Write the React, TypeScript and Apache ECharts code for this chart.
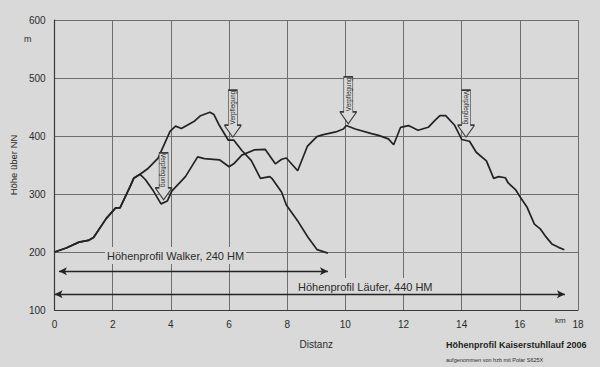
import React, { useEffect, useRef } from "react";
import * as echarts from "echarts";

// Shared start of both profiles (km / m)
const commonKm = [0, 0.4, 0.84, 1.16, 1.34, 1.78, 2.1, 2.25, 2.6, 2.72, 2.94];
const commonM = [200, 207, 217, 220, 225, 258, 276, 276, 313, 327, 334];

// Walker profile after the split
const walkerKm = [3.19, 3.56, 3.97, 4.16, 4.36, 4.82, 5.02, 5.34, 5.48, 5.67, 5.97, 6.16, 6.44, 6.76, 7.08, 7.4, 7.49, 7.81, 7.97, 8.38, 8.72, 9.03, 9.4];
const walkerM = [343, 362, 408, 417, 413, 426, 435, 441, 437, 418, 393, 393, 375, 358, 327, 330, 326, 303, 281, 252, 225, 204, 198];

// Läufer profile after the split
const laeuferKm = [3.12, 3.4, 3.66, 3.88, 4.03, 4.5, 4.92, 5.15, 5.67, 6.0, 6.16, 6.44, 6.86, 7.24, 7.59, 7.81, 7.97, 8.13, 8.36, 8.69, 9.02, 9.21, 9.67, 9.93, 10.03, 10.34, 10.9, 11.14, 11.48, 11.66, 11.9, 12.17, 12.5, 12.85, 13.08, 13.25, 13.45, 13.75, 14.0, 14.27, 14.5, 14.85, 15.1, 15.27, 15.5, 15.6, 15.86, 15.97, 16.25, 16.5, 16.7, 16.9, 17.1, 17.33, 17.53];
const laeuferM = [325, 305, 283, 288, 305, 330, 364, 361, 359, 347, 352, 367, 376, 377, 352, 360, 362, 353, 340, 382, 399, 402, 407, 412, 418, 412, 404, 401, 395, 385, 415, 418, 410, 415, 427, 435, 435, 419, 394, 391, 372, 357, 327, 330, 328, 319, 307, 298, 277, 248, 240, 226, 214, 208, 204];

// Refreshment points (Verpflegung): [km, m, text rotation]
const walkerStops = [[6.13, 398, 90]];
const laeuferStops = [[3.75, 290, -90], [10.1, 421, 90], [14.15, 398, -90]];

// Distance arrows: [fromKm, toKm, heightM]
const walkerArrow = [0.15, 9.4, 167];
const laeuferArrow = [0, 17.55, 127];

const yTicks = { min: 100, max: 600, step: 100 };
const xTicks = { min: 0, max: 18, step: 2 };

const paper = "#d9d9d9";
const ink = "#232323";
const textInk = "#2b2b2b";
const font = "Liberation Sans, Arial, sans-serif";

const calloutPath = "path://M4,0 L13,0 L13,35 L17,35 L8.5,47 L0,35 L4,35 Z";

function zip(a: number[], b: number[]) {
  return a.map((v, i) => [v, b[i]]);
}

function stopPoints(stops: number[][]) {
  return stops.map((s) => ({
    coord: [s[0], s[1]],
    label: {
      show: true,
      formatter: "Verpflegung",
      rotate: s[2],
      position: "inside",
      // offset is applied in the rotated frame: move the text up into the box
      offset: s[2] > 0 ? [6, 0] : [-6, 0],
      fontSize: 6.3,
      color: textInk,
      fontFamily: font,
    },
  }));
}

export default function App() {
  const ref = useRef<HTMLDivElement>(null);
  useEffect(() => {
    document.body.style.margin = "0";
    document.body.style.background = paper;
    const chart = echarts.init(ref.current!, null, { renderer: "svg" });
    const walkerData = zip(commonKm, commonM).concat(zip(walkerKm, walkerM));
    const laeuferData = zip(commonKm, commonM).concat(zip(laeuferKm, laeuferM));
    const markPointBase = {
      symbol: calloutPath,
      symbolSize: [17, 47],
      symbolOffset: [0, "-50%"],
      itemStyle: { color: paper, borderColor: "#3a3a3a", borderWidth: 1 },
      silent: true,
    };
    const markLineBase = {
      symbol: ["arrow", "arrow"],
      symbolSize: [6, 8],
      silent: true,
      label: { show: false },
      lineStyle: { color: ink, width: 1.4, type: "solid" },
      emphasis: { disabled: true },
    };
    const option: any = {
      animation: false,
      backgroundColor: paper,
      grid: { left: 47, right: 22, top: 20, bottom: 57 },
      xAxis: {
        type: "value",
        min: xTicks.min,
        max: xTicks.max,
        interval: xTicks.step,
        axisLine: { show: true, lineStyle: { color: "#3a3a3a", width: 1.2 } },
        axisTick: { show: false },
        axisLabel: { color: textInk, fontSize: 10, margin: 9, fontFamily: font },
        splitLine: { show: true, lineStyle: { color: "#6e6e6e", width: 1 } },
        name: "Distanz",
        nameLocation: "middle",
        nameGap: 29,
        nameTextStyle: { color: textInk, fontSize: 10, fontFamily: font },
      },
      yAxis: {
        type: "value",
        min: yTicks.min,
        max: yTicks.max,
        interval: yTicks.step,
        axisLine: { show: true, lineStyle: { color: "#3a3a3a", width: 1.2 } },
        axisTick: { show: false },
        axisLabel: { color: textInk, fontSize: 10, margin: 9, fontFamily: font },
        splitLine: { show: true, lineStyle: { color: "#6e6e6e", width: 1 } },
        name: "Höhe über NN",
        nameLocation: "middle",
        nameGap: 33,
        nameRotate: 90,
        nameTextStyle: { color: textInk, fontSize: 9.5, fontFamily: font },
      },
      graphic: [
        { type: "text", left: 24, top: 34, z: 5, style: { text: "m", fontSize: 9, fill: textInk, fontFamily: font } },
        { type: "text", left: 555, top: 316, z: 5, style: { text: "km", fontSize: 8, fill: textInk, fontFamily: font } },
        {
          type: "text", left: 105, top: 247, z: 1,
          style: { text: "Höhenprofil Walker, 240 HM", fontSize: 11, fill: textInk, fontFamily: font, backgroundColor: paper, padding: [3, 2] },
        },
        {
          type: "text", left: 296, top: 278, z: 1,
          style: { text: "Höhenprofil Läufer, 440 HM", fontSize: 11, fill: textInk, fontFamily: font, backgroundColor: paper, padding: [3, 2] },
        },
        {
          type: "text", left: 446, top: 340, z: 5,
          style: { text: "Höhenprofil Kaiserstuhllauf 2006", fontSize: 9, fontWeight: "bold", fill: "#1e1e1e", fontFamily: font },
        },
        {
          type: "text", left: 446, top: 357, z: 5,
          style: { text: "aufgenommen von hzb mit Polar S625X", fontSize: 5.5, fill: textInk, fontFamily: font },
        },
      ],
      series: [
        {
          name: "Walker",
          type: "line",
          data: walkerData,
          showSymbol: false,
          lineStyle: { color: ink, width: 1.7 },
          markPoint: { ...markPointBase, data: stopPoints(walkerStops) },
          markLine: {
            ...markLineBase,
            data: [[{ coord: [walkerArrow[0], walkerArrow[2]] }, { coord: [walkerArrow[1], walkerArrow[2]] }]],
          },
        },
        {
          name: "Läufer",
          type: "line",
          data: laeuferData,
          showSymbol: false,
          lineStyle: { color: ink, width: 1.7 },
          markPoint: { ...markPointBase, data: stopPoints(laeuferStops) },
          markLine: {
            ...markLineBase,
            data: [[{ coord: [laeuferArrow[0], laeuferArrow[2]] }, { coord: [laeuferArrow[1], laeuferArrow[2]] }]],
          },
        },
      ],
    };
    chart.setOption(option);
    return () => chart.dispose();
  }, []);
  return (
    <div
      ref={ref}
      style={{ position: "fixed", left: 0, top: 0, width: 600, height: 367 }}
    />
  );
}
